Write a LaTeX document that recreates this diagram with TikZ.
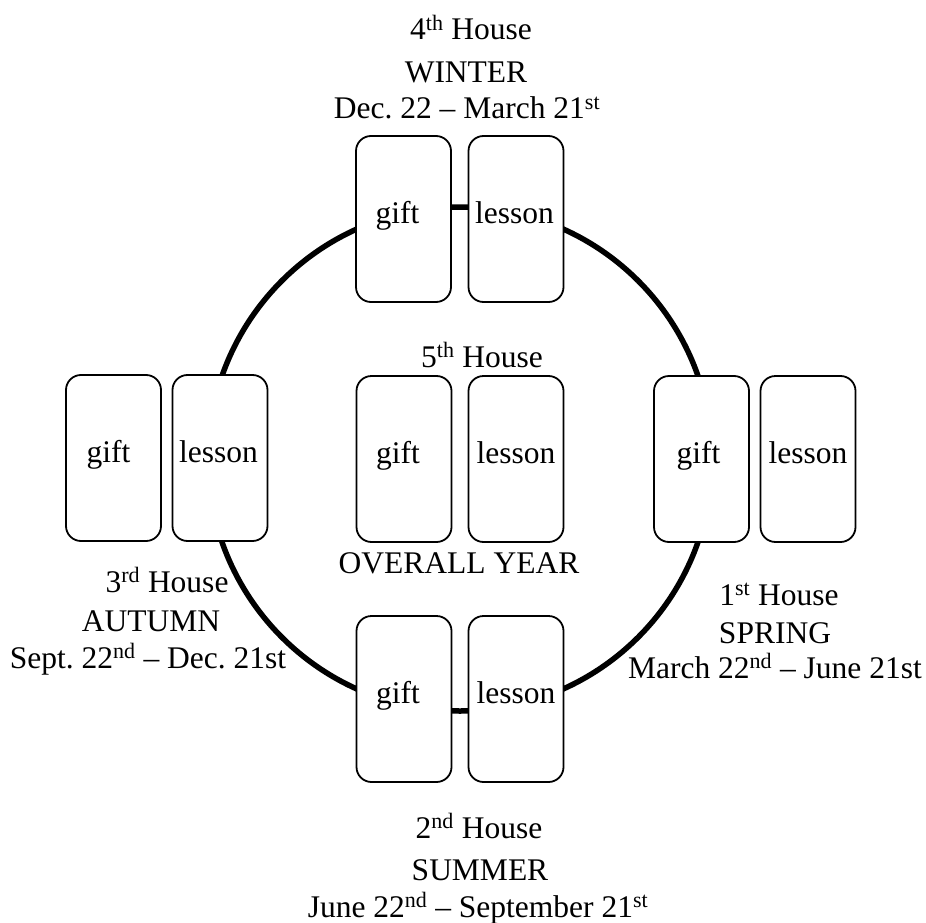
\documentclass[tikz,border=0pt]{standalone}
\usepackage{fontspec}
\setmainfont{Liberation Serif}
\frenchspacing
\begin{document}
\begin{tikzpicture}[x=1pt,y=-1pt,
  card/.style={draw, line width=1.8pt, rounded corners=15pt, fill=white,
    minimum width=95pt, minimum height=166pt, inner sep=0pt,
    text height=14pt, text depth=6pt},
  lbl/.style={anchor=base, inner sep=0pt},
  every node/.append style={font=\fontsize{31.5}{36}\selectfont}]
\useasboundingbox (0,0) rectangle (926,923);
\node[circle, draw, line width=5.5pt, minimum size=504pt, inner sep=0pt] (ring) at (460,459) {};
% cards
\node[card] (tg) at (403.5,219) {gift\hspace*{12pt}};
\node[card] (tl) at (516,219) {lesson\hspace*{3pt}};
\node[card] (mg) at (404,459) {gift\hspace*{12pt}};
\node[card] (ml) at (516,459) {lesson};
\node[card] (lg) at (113.5,458) {gift\hspace*{10pt}};
\node[card] (ll) at (220,458) {lesson\hspace*{3pt}};
\node[card] (rg) at (701.5,459) {gift\hspace*{6pt}};
\node[card] (rl) at (808,459) {lesson};
\node[card] (bg) at (404,699) {gift\hspace*{12pt}};
\node[card] (bl) at (516,699) {lesson};
% top labels
\node[lbl] (t1) at (471,40) {4\textsuperscript{th} House};
\node[lbl] (t2) at (466,83) {WINTER};
\node[lbl] (t3) at (467,119) {Dec. 22 -- March 21\textsuperscript{st}};
% center labels
\node[lbl] (c1) at (482,367) {5\textsuperscript{th} House};
\node[lbl] (c2) at (459,573) {OVERALL YEAR};
% right labels
\node[lbl] (r1) at (779,605) {1\textsuperscript{st} House};
\node[lbl] (r2) at (775,643) {SPRING};
\node[lbl] (r3) at (775,678) {March 22\textsuperscript{nd} -- June 21st};
% left labels
\node[lbl] (l1) at (167,592) {3\textsuperscript{rd} House};
\node[lbl] (l2) at (151,631) {AUTUMN};
\node[lbl] (l3) at (148,668) {Sept. 22\textsuperscript{nd} -- Dec. 21st};
% bottom labels
\node[lbl] (b1) at (479,838) {2\textsuperscript{nd} House};
\node[lbl] (b2) at (480,880) {SUMMER};
\node[lbl] (b3) at (478,917) {June 22\textsuperscript{nd} -- September 21\textsuperscript{st}};
\end{tikzpicture}
\end{document}
